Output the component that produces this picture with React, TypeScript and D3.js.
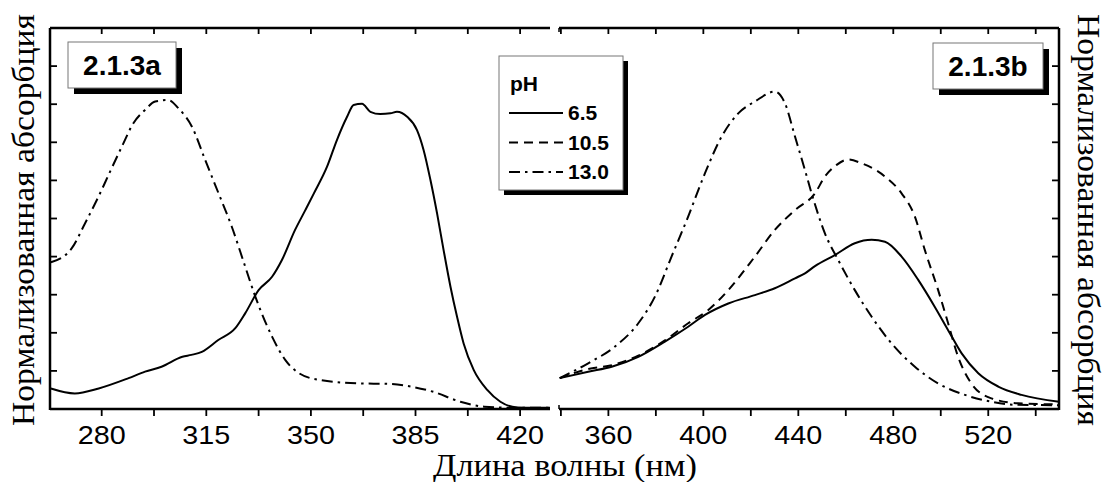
import React from "react";
import * as d3 from "d3";

// ---- data ----
const leftTicks = [280, 315, 350, 385, 420];
const rightTicks = [360, 400, 440, 480, 520];

const wlA65 = [263, 271, 279, 289, 294.5, 300, 307, 310, 313.5, 319, 324.7, 328, 332.5, 337, 340.3, 344.7, 348, 351, 355.4, 358.7, 362.1, 364.3, 367.1, 369.9, 373.2, 376.6, 378.8, 382.2, 385.5, 387.7, 390, 392.2, 394.4, 396.7, 398.9, 401.1, 404.5, 409, 413.4, 419, 425, 430];
const absA65 = [0.054, 0.041, 0.054, 0.081, 0.098, 0.111, 0.137, 0.142, 0.150, 0.181, 0.212, 0.251, 0.312, 0.347, 0.391, 0.470, 0.520, 0.566, 0.636, 0.706, 0.767, 0.798, 0.801, 0.780, 0.774, 0.776, 0.780, 0.767, 0.732, 0.680, 0.601, 0.514, 0.417, 0.321, 0.242, 0.172, 0.102, 0.050, 0.019, 0.004, 0.003, 0.003];

const wlA130 = [263, 270, 274.4, 278.9, 282.8, 286.7, 290.6, 294.5, 297.9, 302.3, 305.7, 310.2, 314.6, 319.1, 323.5, 328, 331.4, 337, 341.4, 346, 353, 366.5, 375.5, 383.3, 391, 400, 408, 419, 430];
const absA130 = [0.385, 0.422, 0.487, 0.557, 0.623, 0.688, 0.750, 0.785, 0.807, 0.811, 0.789, 0.741, 0.654, 0.566, 0.479, 0.374, 0.295, 0.190, 0.129, 0.094, 0.076, 0.067, 0.066, 0.059, 0.045, 0.019, 0.006, 0.003, 0.003];

const wlB65 = [339.5, 351.5, 361.4, 372.6, 383.8, 393.6, 400.7, 410.5, 421.7, 430.1, 438.6, 442.8, 447, 455.4, 463.8, 470.9, 476.5, 483.5, 490.5, 497.5, 503.1, 508.8, 515.8, 524.2, 534, 549.8];
const absB65 = [0.081, 0.098, 0.111, 0.137, 0.177, 0.216, 0.247, 0.277, 0.299, 0.317, 0.343, 0.356, 0.375, 0.404, 0.435, 0.444, 0.439, 0.400, 0.339, 0.268, 0.207, 0.146, 0.094, 0.059, 0.037, 0.019];

const wlB105 = [339.5, 351.5, 361.4, 372.6, 383.8, 393.6, 402.1, 410.5, 421.7, 430.1, 438.6, 447, 451.2, 456, 461, 466.6, 476.5, 483.5, 489.1, 493.3, 498.9, 503.1, 507.3, 512.9, 521.3, 532.6, 549.8];
const absB105 = [0.081, 0.105, 0.115, 0.140, 0.180, 0.225, 0.260, 0.312, 0.400, 0.470, 0.522, 0.566, 0.610, 0.640, 0.655, 0.645, 0.610, 0.566, 0.505, 0.417, 0.312, 0.225, 0.137, 0.067, 0.028, 0.015, 0.012];

const wlB130 = [339.5, 351.5, 362.8, 372.6, 379.6, 386.6, 393.6, 400.7, 407.7, 414.7, 421.7, 430.1, 434.4, 438.6, 442.8, 445.6, 451.2, 456.8, 463.8, 470.9, 479.3, 489.1, 498.9, 510.2, 521.3, 532, 549.8];
const absB130 = [0.081, 0.120, 0.164, 0.225, 0.295, 0.400, 0.505, 0.619, 0.715, 0.776, 0.807, 0.833, 0.802, 0.715, 0.627, 0.566, 0.461, 0.391, 0.312, 0.242, 0.172, 0.111, 0.067, 0.037, 0.019, 0.011, 0.010];

const legendTitle = "pH";
const legendLabels = ["6.5", "10.5", "13.0"];
const panelLabels = ["2.1.3a", "2.1.3b"];
const xTitle = "Длина волны (нм)";
const yTitle = "Нормализованная абсорбция";

// ---- layout ----
const TOP = 28;
const BOTTOM = 409;
const L0 = 50, L1 = 550, R0 = 559, R1 = 1059;

const DASH = "9,6";
const DASHDOT = "11,5,2.5,5";
const styles = [undefined, DASH, DASHDOT];

export default function App() {
  const y = d3.scaleLinear().domain([0, 1]).range([BOTTOM, TOP]);
  const xL = d3.scaleLinear().domain([262.7, 430]).range([L0, L1]);
  const xR = d3.scaleLinear().domain([339.2, 549.8]).range([R0, R1]);

  const mk = (xs: d3.ScaleLinear<number, number>) =>
    d3
      .line<[number, number]>()
      .x((d) => xs(d[0]))
      .y((d) => y(d[1]))
      .curve(d3.curveMonotoneX);

  const zip = (a: number[], b: number[]) => a.map((v, i) => [v, b[i]] as [number, number]);

  const leftSeries = [
    { d: zip(wlA65, absA65), dash: undefined },
    { d: zip(wlA130, absA130), dash: DASHDOT },
  ];
  const rightSeries = [
    { d: zip(wlB65, absB65), dash: undefined },
    { d: zip(wlB105, absB105), dash: DASH },
    { d: zip(wlB130, absB130), dash: DASHDOT },
  ];

  const yTicks = d3.range(1, 10).map((i) => i / 10);
  const leftAll = d3.range(leftTicks[0] - 17.5, 431, 17.5).filter((v) => xL(v) > L0 + 1 && xL(v) < L1);
  const rightAll = d3.range(rightTicks[0] - 20, 551, 20).filter((v) => xR(v) > R0 + 1 && xR(v) < R1);

  const axisW = 2.5;
  const tickFont = "'Liberation Sans', Arial, sans-serif";
  const serif = "'Liberation Serif', 'Times New Roman', serif";

  const labelBox = (x: number, yy: number, w: number, h: number, text: string) => (
    <g>
      <rect x={x + 6} y={yy + 6} width={w} height={h} fill="#000" />
      <rect x={x} y={yy} width={w} height={h} fill="#fff" stroke="#777" strokeWidth={1} />
      <text x={x + w / 2} y={yy + h / 2 + 10} textAnchor="middle" fontFamily={tickFont} fontWeight="bold" fontSize={28}>
        {text}
      </text>
    </g>
  );

  return (
    <svg width={1105} height={482} style={{ position: "absolute", left: 0, top: 0, background: "#fff" }}>
      <rect x={0} y={0} width={1105} height={482} fill="#fff" />
      {/* curves */}
      <g fill="none" stroke="#000" strokeWidth={2}>
        {leftSeries.map((s, i) => (
          <path key={"l" + i} d={mk(xL)(s.d) || ""} strokeDasharray={s.dash} />
        ))}
        {rightSeries.map((s, i) => (
          <path key={"r" + i} d={mk(xR)(s.d) || ""} strokeDasharray={s.dash} />
        ))}
      </g>

      {/* frame */}
      <g stroke="#000" strokeWidth={axisW} fill="none">
        <line x1={L0} y1={TOP} x2={L0} y2={BOTTOM + 1} />
        <line x1={L0} y1={TOP} x2={L1} y2={TOP} />
        <line x1={L0} y1={BOTTOM} x2={L1} y2={BOTTOM} />
        <line x1={R0} y1={TOP} x2={R1} y2={TOP} />
        <line x1={R0} y1={BOTTOM} x2={R1} y2={BOTTOM} />
        <line x1={R1} y1={TOP} x2={R1} y2={BOTTOM + 1} />
        <line x1={R0} y1={TOP} x2={R0} y2={TOP + 4} strokeWidth={1.5} />
        <line x1={R0} y1={BOTTOM} x2={R0} y2={BOTTOM - 4} strokeWidth={1.5} />
      </g>
      <g stroke="#000" strokeWidth={1.8}>
        {yTicks.map((t) => (
          <g key={"yt" + t}>
            <line x1={L0} x2={L0 + 7} y1={y(t)} y2={y(t)} />
            <line x1={R1} x2={R1 - 7} y1={y(t)} y2={y(t)} />
          </g>
        ))}
        {leftAll.map((t) => (
          <g key={"lx" + t}>
            <line x1={xL(t)} x2={xL(t)} y1={TOP} y2={TOP + 6} />
            <line x1={xL(t)} x2={xL(t)} y1={BOTTOM} y2={BOTTOM + 7} />
          </g>
        ))}
        {rightAll.map((t) => (
          <g key={"rx" + t}>
            <line x1={xR(t)} x2={xR(t)} y1={TOP} y2={TOP + 6} />
            <line x1={xR(t)} x2={xR(t)} y1={BOTTOM} y2={BOTTOM + 7} />
          </g>
        ))}
      </g>
      <g fontFamily={tickFont} fontSize={25} textAnchor="middle" fill="#000">
        {leftTicks.map((t) => (
          <text key={"ll" + t} transform={`translate(${xL(t)},444) scale(1.15,1)`}>{t}</text>
        ))}
        {rightTicks.map((t) => (
          <text key={"rl" + t} transform={`translate(${xR(t)},444) scale(1.15,1)`}>{t}</text>
        ))}
      </g>

      {/* titles */}
      <text x={565} y={476} textAnchor="middle" fontFamily={serif} fontSize={32} textLength={264} lengthAdjust="spacingAndGlyphs">{xTitle}</text>
      <text transform="translate(34,220) rotate(-90)" textAnchor="middle" fontFamily={serif} fontSize={31} textLength={412} lengthAdjust="spacingAndGlyphs">{yTitle}</text>
      <text transform="translate(1078,220) rotate(90)" textAnchor="middle" fontFamily={serif} fontSize={31} textLength={412} lengthAdjust="spacingAndGlyphs">{yTitle}</text>

      {/* panel labels */}
      {labelBox(68, 42, 108, 46, panelLabels[0])}
      {labelBox(933, 43, 110, 46, panelLabels[1])}

      {/* legend */}
      <g>
        <rect x={504} y={61} width={124} height={134} fill="#000" />
        <rect x={499} y={56} width={124} height={134} fill="#fff" stroke="#777" strokeWidth={1} />
        <text x={510} y={91} fontFamily={tickFont} fontWeight="bold" fontSize={21}>{legendTitle}</text>
        {legendLabels.map((lab, i) => (
          <g key={lab}>
            <line x1={509} x2={563} y1={113 + i * 29.5} y2={113 + i * 29.5} stroke="#000" strokeWidth={2} strokeDasharray={styles[i]} />
            <text x={568} y={120 + i * 29.5} fontFamily={tickFont} fontWeight="bold" fontSize={21}>{lab}</text>
          </g>
        ))}
      </g>
    </svg>
  );
}
